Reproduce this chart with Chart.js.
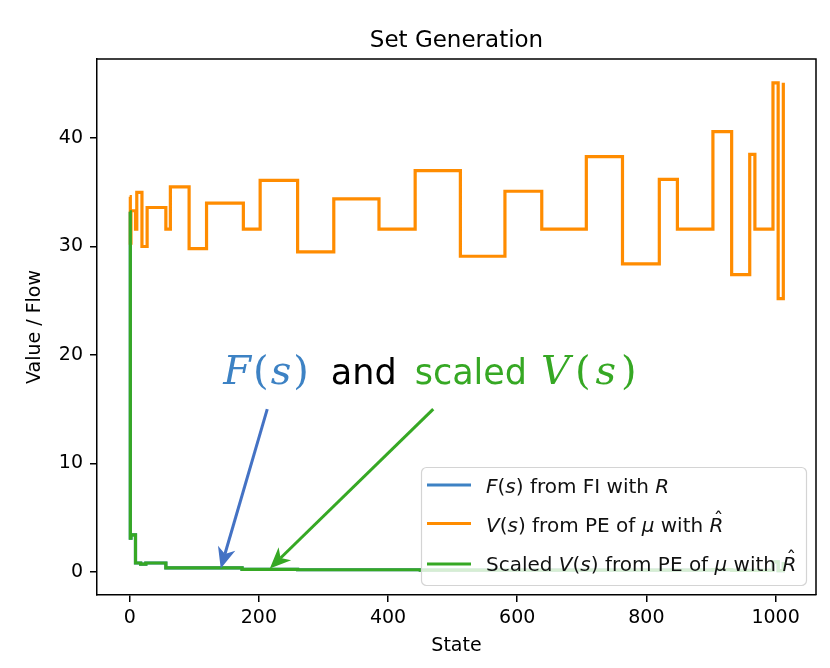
<!DOCTYPE html>
<html lang="en">
<head>
    <meta charset="UTF-8">
    <title>Set Generation</title>
    <script src="https://cdn.jsdelivr.net/npm/chart.js"></script>
    <style>
        html, body { margin: 0; padding: 0; background: #fff; }
        #chartContainer { width: 830px; height: 668px; position: relative; }
    </style>
</head>
<body>

<div id="chartContainer">
    <canvas id="setChart"></canvas>
</div>

<script>
    // V(s) from PE of mu with R-hat (step starts / levels)
    const valueStates = [0, 1, 2, 9, 11, 19, 27, 56, 63, 92, 119, 176, 202, 260, 316, 386, 442, 512,
                         581, 638, 707, 763, 820, 848, 903, 932, 960, 968, 996, 1004, 1012];
    const valueLevels = [34.6, 30.3, 33.3, 31.6, 35.0, 30.0, 33.6, 31.6, 35.5, 29.8, 34.0, 31.6, 36.1, 29.5,
                         34.4, 31.6, 37.0, 29.1, 35.1, 31.6, 38.3, 28.4, 36.2, 31.6, 40.6, 27.4, 38.5, 31.6,
                         45.1, 25.2, 45.1];

    // scaled V(s) (F(s) lies right under it)
    const scaledStates = [0, 1, 2, 9, 17, 25, 56, 174, 260, 450, 700, 903, 932, 996, 1004, 1012];
    const scaledLevels = [33.2, 3.1, 3.4, 0.8, 0.7, 0.8, 0.35, 0.22, 0.18, 0.15, 0.14, 0.2, 0.12, 0.9, 0.1, 0.9];
    const flowStates = scaledStates;
    const flowLevels = scaledLevels;

    const xTickStep = 200;
    const yTickStep = 10;

    const BLUE = '#3d82c4';
    const ORANGE = '#ff8c00';
    const GREEN = '#36a824';
    const ARROW_BLUE = '#4472c4';

    const toPoints = (xs, ys) => xs.map((x, i) => ({ x: x, y: ys[i] }));

    // legend text pieces: [text, italic, hat]
    const legendRows = [
        [['F', true], ['(', false], ['s', true], [') from FI with ', false], ['R', true]],
        [['V', true], ['(', false], ['s', true], [') from PE of ', false], ['\u03bc', true], [' with ', false], ['R', true, true]],
        [['Scaled ', false], ['V', true], ['(', false], ['s', true], [') from PE of ', false], ['\u03bc', true], [' with ', false], ['R', true, true]]
    ];

    function drawPieces(ctx, pieces, x, y, size, color) {
        ctx.fillStyle = color;
        ctx.textBaseline = 'alphabetic';
        ctx.textAlign = 'left';
        pieces.forEach(p => {
            ctx.font = (p[1] ? 'oblique ' : '') + size + 'px "DejaVu Sans"';
            ctx.fillText(p[0], x, y);
            const w = ctx.measureText(p[0]).width;
            if (p[2]) {
                ctx.font = size + 'px "DejaVu Sans"';
                const hw = ctx.measureText('\u02c6').width;
                ctx.fillText('\u02c6', x + w / 2 - hw / 2 + 2, y - 6);
            }
            x += w;
        });
    }

    function drawArrow(ctx, x1, y1, x2, y2, color) {
        const ang = Math.atan2(y2 - y1, x2 - x1);
        const headLen = 21, headHalf = 9, notch = 6;
        const cos = Math.cos(ang), sin = Math.sin(ang);
        ctx.save();
        ctx.strokeStyle = color;
        ctx.fillStyle = color;
        ctx.lineWidth = 3;
        ctx.beginPath();
        ctx.moveTo(x1, y1);
        ctx.lineTo(x2 - cos * (headLen - notch), y2 - sin * (headLen - notch));
        ctx.stroke();
        const bx = x2 - cos * headLen, by = y2 - sin * headLen;
        ctx.beginPath();
        ctx.moveTo(x2, y2);
        ctx.lineTo(bx - sin * headHalf, by + cos * headHalf);
        ctx.lineTo(x2 - cos * (headLen - notch), y2 - sin * (headLen - notch));
        ctx.lineTo(bx + sin * headHalf, by - cos * headHalf);
        ctx.closePath();
        ctx.fill();
        ctx.restore();
    }

    const decorations = {
        id: 'decorations',
        afterDatasetsDraw(chart) {
            const ctx = chart.ctx;
            const area = chart.chartArea;
            const xs = chart.scales.x, ys = chart.scales.y;

            // top / right frame
            ctx.save();
            ctx.strokeStyle = '#000';
            ctx.lineWidth = 1.5;
            ctx.beginPath();
            ctx.moveTo(area.left, area.top);
            ctx.lineTo(area.right, area.top);
            ctx.lineTo(area.right, area.bottom);
            ctx.stroke();

            // title
            ctx.fillStyle = '#000';
            ctx.font = '23px "DejaVu Sans"';
            ctx.textAlign = 'center';
            ctx.textBaseline = 'alphabetic';
            ctx.fillText('Set Generation', (area.left + area.right) / 2, 47);

            // annotation text
            let tx = xs.getPixelForValue(145);
            const ty = ys.getPixelForValue(17.3);
            const math = (parts, color, gap) => {
                ctx.fillStyle = color;
                parts.forEach(p => {
                    ctx.font = (p[1] ? 'italic ' : '') + '40px "DejaVu Serif"';
                    ctx.fillText(p[0], tx, ty);
                    tx += ctx.measureText(p[0]).width + gap;
                });
            };
            ctx.textAlign = 'left';
            math([['F', true], ['(', false], ['s', true], [')', false]], BLUE, 2);
            tx += 20;
            ctx.font = '35px "DejaVu Sans"';
            ctx.fillStyle = '#000';
            ctx.fillText('and', tx, ty);
            tx += ctx.measureText('and').width + 18;
            ctx.fillStyle = GREEN;
            ctx.fillText('scaled', tx, ty);
            tx += ctx.measureText('scaled').width + 14;
            math([['V', true], ['(', false], ['s', true], [')', false]], GREEN, 5);

            // arrows
            drawArrow(ctx, xs.getPixelForValue(213), ys.getPixelForValue(15), xs.getPixelForValue(141), ys.getPixelForValue(0.3), ARROW_BLUE);
            drawArrow(ctx, xs.getPixelForValue(470), ys.getPixelForValue(15), xs.getPixelForValue(217), ys.getPixelForValue(0.3), GREEN);

            // legend
            const lx = 421.5, ly = 467.5, lw = 385, lh = 118;
            ctx.beginPath();
            ctx.roundRect(lx, ly, lw, lh, 5);
            ctx.fillStyle = 'rgba(255,255,255,0.8)';
            ctx.fill();
            ctx.strokeStyle = '#d4d4d4';
            ctx.lineWidth = 1.2;
            ctx.stroke();

            const rowY = [485, 523.5, 564];
            const baseY = [493, 531.5, 571];
            chart.data.datasets.forEach((ds, i) => {
                ctx.strokeStyle = ds.borderColor;
                ctx.lineWidth = 3;
                ctx.beginPath();
                ctx.moveTo(427, rowY[i]);
                ctx.lineTo(471, rowY[i]);
                ctx.stroke();
                drawPieces(ctx, legendRows[i], 486, baseY[i], 20, '#111');
            });
            ctx.restore();
        }
    };

    const ctx = document.getElementById('setChart').getContext('2d');
    new Chart(ctx, {
        type: 'line',
        data: {
            datasets: [
                {
                    label: 'F(s) from FI with R',
                    data: toPoints(flowStates, flowLevels),
                    borderColor: BLUE,
                    order: 3
                },
                {
                    label: 'V(s) from PE of \u03bc with R\u0302',
                    data: toPoints(valueStates, valueLevels),
                    borderColor: ORANGE,
                    order: 2
                },
                {
                    label: 'Scaled V(s) from PE of \u03bc with R\u0302',
                    data: toPoints(scaledStates, scaledLevels),
                    borderColor: GREEN,
                    order: 1
                }
            ]
        },
        options: {
            responsive: true,
            maintainAspectRatio: false,
            animation: false,
            layout: { padding: { top: 59, right: 14, left: 0, bottom: 0 } },
            datasets: {
                line: { stepped: true, borderWidth: 3.2, pointRadius: 0, fill: false, tension: 0 }
            },
            plugins: {
                legend: { display: false },
                title: { display: false },
                tooltip: { enabled: false }
            },
            scales: {
                x: {
                    type: 'linear',
                    min: -50.6,
                    max: 1062.6,
                    grid: { drawOnChartArea: false, drawTicks: true, tickLength: 7, color: '#000', lineWidth: 1.5 },
                    border: { display: true, color: '#000', width: 1.5 },
                    ticks: {
                        stepSize: xTickStep,
                        includeBounds: false,
                        color: '#000',
                        font: { family: 'DejaVu Sans', size: 19 },
                        padding: 5,
                        maxRotation: 0,
                        callback: v => String(v)
                    },
                    title: {
                        display: true,
                        text: 'State',
                        color: '#000',
                        font: { family: 'DejaVu Sans', size: 19 },
                        padding: { top: 0, bottom: 11 }
                    },
                    afterFit: scale => { scale.height = 73; }
                },
                y: {
                    min: -2.15,
                    max: 47.3,
                    grid: { drawOnChartArea: false, drawTicks: true, tickLength: 7, color: '#000', lineWidth: 1.5 },
                    border: { display: true, color: '#000', width: 1.5 },
                    ticks: {
                        stepSize: yTickStep,
                        includeBounds: false,
                        color: '#000',
                        font: { family: 'DejaVu Sans', size: 19 },
                        padding: 7
                    },
                    title: {
                        display: true,
                        text: 'Value / Flow',
                        color: '#000',
                        font: { family: 'DejaVu Sans', size: 19 },
                        padding: { top: 24, bottom: 0 }
                    },
                    afterFit: scale => { scale.width = 97; }
                }
            }
        },
        plugins: [decorations]
    });
</script>

</body>
</html>
